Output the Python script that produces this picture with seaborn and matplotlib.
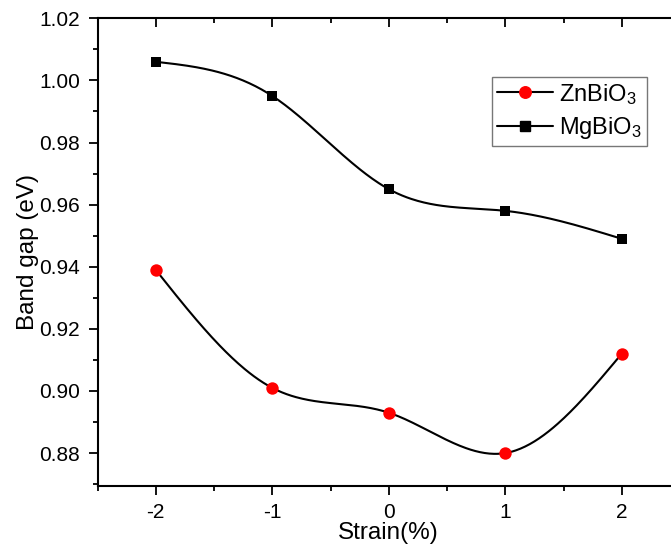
import numpy as np
import pandas as pd
import matplotlib
matplotlib.use("Agg")
import matplotlib.pyplot as plt
import seaborn as sns
from matplotlib.lines import Line2D
from matplotlib.ticker import MultipleLocator, FormatStrFormatter

strain = [-2, -1, 0, 1, 2]
znbio3 = [0.939, 0.901, 0.893, 0.880, 0.912]
mgbio3 = [1.006, 0.995, 0.965, 0.958, 0.949]
series_names = ["ZnBiO$_3$", "MgBiO$_3$"]

sns.set_style("ticks")
plt.rcParams["font.family"] = ["Liberation Sans", "DejaVu Sans"]
plt.rcParams["mathtext.fontset"] = "custom"
plt.rcParams["mathtext.rm"] = "Liberation Sans"
plt.rcParams["mathtext.it"] = "Liberation Sans:italic"
plt.rcParams["mathtext.bf"] = "Liberation Sans:bold"
for key in ["text.color", "axes.labelcolor", "xtick.color", "ytick.color", "axes.edgecolor"]:
    plt.rcParams[key] = "black"


def natural_spline(x, y, n=300):
    x = np.asarray(x, float)
    y = np.asarray(y, float)
    m = len(x)
    h = np.diff(x)
    A = np.zeros((m, m))
    b = np.zeros(m)
    A[0, 0] = 1
    A[-1, -1] = 1
    for i in range(1, m - 1):
        A[i, i - 1] = h[i - 1]
        A[i, i] = 2 * (h[i - 1] + h[i])
        A[i, i + 1] = h[i]
        b[i] = 3 * ((y[i + 1] - y[i]) / h[i] - (y[i] - y[i - 1]) / h[i - 1])
    c = np.linalg.solve(A, b)
    xs = np.linspace(x[0], x[-1], n)
    ys = np.empty_like(xs)
    for k, xv in enumerate(xs):
        i = min(np.searchsorted(x, xv, side="right") - 1, m - 2)
        t = xv - x[i]
        bi = (y[i + 1] - y[i]) / h[i] - h[i] * (2 * c[i] + c[i + 1]) / 3
        di = (c[i + 1] - c[i]) / (3 * h[i])
        ys[k] = y[i] + bi * t + c[i] * t ** 2 + di * t ** 3
    return xs, ys


fig = plt.figure(figsize=(6.71, 5.51), dpi=100)
ax = fig.add_axes([97.5 / 671, 1 - 486 / 551, (680 - 97.5) / 671, (486 - 18.3) / 551])

for vals in (znbio3, mgbio3):
    xs, ys = natural_spline(strain, vals)
    sns.lineplot(x=xs, y=ys, ax=ax, color="black", linewidth=1.5, zorder=2)

sns.scatterplot(x=strain, y=znbio3, ax=ax, color="#ff0000", marker="o", s=80,
                edgecolor="#ff0000", linewidth=0, zorder=3)
sns.scatterplot(x=strain, y=mgbio3, ax=ax, color="black", marker="s", s=55,
                edgecolor="black", linewidth=0, zorder=3)

xlim = (-2.5, 2.5)
ylim = (0.8694, 1.02)
ax.set_xlim(*xlim)
ax.set_ylim(*ylim)
ax.set_xticks(strain)
ax.set_xticklabels([str(s) for s in strain])
ax.xaxis.set_minor_locator(MultipleLocator(0.5))
ax.yaxis.set_major_locator(MultipleLocator(0.02))
ax.yaxis.set_minor_locator(MultipleLocator(0.01))
ax.yaxis.set_major_formatter(FormatStrFormatter("%.2f"))

for sp in ax.spines.values():
    sp.set_linewidth(1.5)
    sp.set_color("black")
    sp.set_visible(True)

ax.tick_params(which="both", bottom=True, left=True, top=False, right=False)
ax.tick_params(which="major", direction="out", length=6.5, width=1.3, labelsize=15,
               colors="black", pad=6)
ax.tick_params(which="minor", direction="out", length=3.5, width=1.3)
ax.set_xlabel("Strain(%)", fontsize=17.5, labelpad=0)
ax.set_ylabel("Band gap (eV)", fontsize=17.5, labelpad=0)

handles = [
    Line2D([], [], color="black", lw=1.5, marker="o", markersize=8.3,
           markerfacecolor="#ff0000", markeredgecolor="#ff0000"),
    Line2D([], [], color="black", lw=1.5, marker="s", markersize=6.8,
           markerfacecolor="black", markeredgecolor="black"),
]
leg = ax.legend(handles, series_names, loc="upper left",
                bbox_to_anchor=(492 / 671, 1 - 77 / 551), bbox_transform=fig.transFigure,
                fontsize=17, frameon=True, fancybox=False, handlelength=2.4,
                handletextpad=0.25, borderpad=0.2, labelspacing=0.35, borderaxespad=0)
leg.get_frame().set_edgecolor("#555555")
leg.get_frame().set_linewidth(1.0)

# inward ticks on top and right: overlay axes with identical position and limits
ax_top = fig.add_axes(ax.get_position(), frameon=False, label="top_ticks")
ax_top.patch.set_visible(False)
ax_top.set_xlim(*xlim)
ax_top.set_ylim(*ylim)
ax_top.set_xticks(strain)
ax_top.xaxis.set_minor_locator(MultipleLocator(0.5))
ax_top.yaxis.set_major_locator(MultipleLocator(0.02))
ax_top.yaxis.set_minor_locator(MultipleLocator(0.01))
ax_top.tick_params(which="both", top=True, bottom=False, right=True, left=False,
                   labeltop=False, labelbottom=False, labelleft=False, labelright=False,
                   direction="in", width=1.3, colors="black")
ax_top.tick_params(which="major", length=6.5)
ax_top.tick_params(which="minor", length=3.5)

fig.savefig("out.png", dpi=100)
